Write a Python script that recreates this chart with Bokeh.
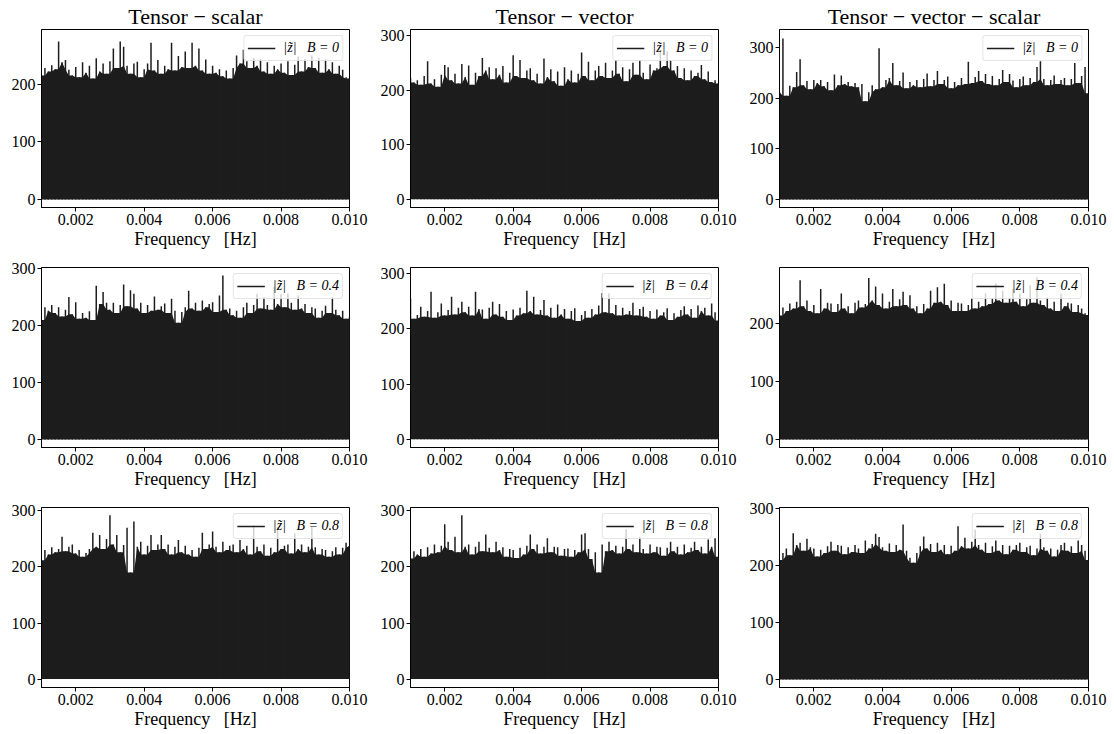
from bokeh.plotting import figure
from bokeh.layouts import column, row
from bokeh.models import Range1d, FixedTicker, NumeralTickFormatter, Legend, LegendItem
from bokeh.embed import file_html
from bokeh.resources import INLINE

# ---------------- data ----------------
freq_start = 0.001
freq_step = 0.0001
n_points = 91
freq = [round(freq_start + i * freq_step, 6) for i in range(n_points)]

titles = ["Tensor \u2212 scalar", "Tensor \u2212 vector", "Tensor \u2212 vector \u2212 scalar"]
b_values = ["0", "0.4", "0.8"]
x_ticks = [0.002, 0.004, 0.006, 0.008, 0.010]
y_ticks = [0, 100, 200, 300]

# |z~| peak values, Tensor - scalar, B = 0
ts_b0 = [215, 228, 222, 233, 226, 274, 238, 242, 225, 215,
         230, 212, 238, 220, 232, 210, 245, 222, 236, 218,
         240, 262, 228, 274, 265, 232, 218, 236, 239, 212,
         226, 236, 272, 224, 242, 218, 232, 226, 272, 224,
         249, 230, 257, 228, 272, 232, 262, 224, 243, 218,
         232, 220, 226, 214, 224, 210, 228, 250, 236, 260,
         240, 228, 246, 232, 244, 222, 238, 218, 232, 226,
         236, 220, 240, 216, 234, 248, 222, 244, 230, 250,
         228, 246, 220, 244, 226, 238, 218, 232, 225, 212,
         210]
# Tensor - vector, B = 0
tv_b0 = [222, 214, 218, 210, 226, 253, 212, 220, 206, 228,
         246, 242, 218, 230, 212, 248, 224, 245, 210, 232,
         226, 259, 236, 242, 220, 240, 228, 244, 214, 232,
         264, 226, 255, 222, 236, 240, 218, 230, 212, 258,
         224, 238, 216, 234, 208, 242, 220, 236, 214, 230,
         269, 226, 252, 218, 236, 244, 226, 250, 222, 236,
         255, 230, 242, 216, 238, 250, 228, 255, 232, 220,
         247, 236, 240, 273, 244, 271, 255, 236, 244, 222,
         240, 218, 236, 226, 232, 246, 220, 234, 215, 218,
         212]
# Tensor - vector - scalar, B = 0
tvs_b0 = [212, 318, 205, 225, 222, 252, 277, 226, 234, 218,
          236, 230, 236, 224, 232, 216, 247, 226, 245, 228,
          232, 224, 230, 222, 228, 194, 212, 226, 218, 299,
          222, 236, 240, 270, 226, 234, 251, 220, 232, 226,
          236, 222, 238, 249, 224, 236, 254, 228, 236, 243,
          220, 232, 226, 240, 228, 272, 230, 242, 254, 234,
          248, 228, 244, 226, 238, 256, 232, 248, 235, 222,
          238, 243, 226, 240, 232, 262, 273, 238, 226, 236,
          245, 228, 236, 240, 226, 238, 270, 230, 244, 262,
          210]
# Tensor - scalar, B = 0.4
ts_b04 = [210, 232, 226, 236, 222, 232, 216, 228, 250, 220,
          241, 212, 222, 214, 225, 210, 270, 238, 259, 240,
          228, 240, 222, 236, 272, 234, 262, 256, 230, 240,
          222, 236, 226, 251, 228, 234, 239, 222, 247, 226,
          205, 224, 232, 261, 230, 240, 226, 244, 232, 238,
          241, 224, 253, 288, 228, 230, 218, 226, 214, 232,
          240, 222, 236, 256, 230, 250, 236, 228, 268, 238,
          256, 232, 257, 240, 228, 253, 230, 238, 222, 232,
          230, 214, 226, 235, 222, 250, 228, 218, 226, 212,
          215]
# Tensor - vector, B = 0.4
tv_b04 = [255, 218, 225, 240, 222, 232, 267, 220, 230, 246,
          224, 234, 258, 226, 238, 249, 230, 240, 224, 267,
          236, 235, 218, 238, 249, 226, 245, 222, 232, 216,
          235, 224, 238, 228, 269, 232, 258, 226, 234, 252,
          224, 238, 220, 244, 226, 236, 218, 232, 237, 214,
          225, 232, 220, 236, 226, 242, 265, 230, 264, 228,
          243, 224, 238, 226, 232, 247, 224, 236, 240, 222,
          232, 218, 235, 224, 230, 237, 216, 228, 222, 234,
          241, 226, 236, 220, 242, 232, 238, 224, 246, 230,
          215]
# Tensor - vector - scalar, B = 0.4
tvs_b04 = [214, 228, 222, 235, 226, 238, 275, 230, 240, 222,
           232, 218, 260, 226, 236, 235, 220, 234, 252, 226,
           230, 218, 236, 240, 228, 234, 279, 240, 264, 232,
           252, 226, 238, 260, 230, 242, 255, 232, 249, 226,
           230, 218, 234, 226, 257, 236, 263, 238, 269, 232,
           240, 222, 236, 235, 222, 232, 243, 226, 238, 230,
           252, 234, 244, 270, 240, 257, 236, 244, 260, 238,
           252, 230, 242, 266, 236, 280, 240, 232, 245, 226,
           238, 222, 252, 230, 236, 235, 220, 232, 226, 218,
           215]
# Tensor - scalar, B = 0.8
ts_b08 = [212, 230, 222, 235, 226, 232, 254, 228, 236, 240,
          224, 230, 218, 225, 232, 261, 236, 257, 232, 250,
          292, 240, 257, 226, 239, 270, 190, 281, 236, 245,
          222, 238, 257, 230, 240, 257, 232, 240, 222, 236,
          248, 226, 238, 222, 230, 218, 234, 261, 232, 240,
          263, 236, 226, 245, 230, 238, 240, 226, 248, 232,
          238, 222, 274, 236, 228, 240, 220, 234, 226, 271,
          232, 238, 240, 224, 260, 232, 240, 226, 236, 271,
          235, 222, 232, 230, 218, 228, 235, 222, 234, 243,
          238]
# Tensor - vector, B = 0.8
tv_b08 = [215, 228, 222, 232, 218, 235, 224, 240, 226, 238,
          276, 245, 230, 254, 226, 292, 236, 240, 222, 236,
          245, 228, 258, 234, 226, 245, 230, 235, 218, 232,
          230, 216, 234, 222, 238, 258, 232, 240, 224, 236,
          251, 226, 236, 235, 220, 232, 233, 218, 230, 226,
          258, 260, 232, 214, 226, 190, 240, 228, 245, 230,
          238, 224, 236, 267, 232, 240, 226, 254, 232, 224,
          240, 226, 236, 235, 220, 234, 245, 228, 236, 222,
          240, 226, 234, 245, 230, 236, 224, 249, 236, 251,
          218]
# Tensor - vector - scalar, B = 0.8
tvs_b08 = [210, 222, 230, 218, 257, 236, 240, 226, 247, 232,
           230, 216, 228, 222, 234, 242, 226, 236, 235, 220,
           232, 224, 236, 230, 222, 244, 230, 238, 256, 250,
           232, 226, 239, 224, 236, 228, 272, 226, 214, 205,
           222, 234, 251, 230, 238, 224, 240, 228, 236, 220,
           235, 226, 269, 234, 249, 230, 242, 263, 236, 228,
           240, 222, 234, 244, 226, 236, 220, 235, 228, 236,
           240, 224, 232, 235, 218, 230, 256, 232, 226, 230,
           216, 228, 236, 240, 226, 234, 222, 244, 236, 226,
           210]

series = [[ts_b0, tv_b0, tvs_b0],
          [ts_b04, tv_b04, tvs_b04],
          [ts_b08, tv_b08, tvs_b08]]

# axis limits
y_limits = [[(-14, 295), (-15, 311), (-16, 336)],
            [(-14, 302), (-15, 311), (-14, 297)],
            [(-15, 306), (-15, 306), (-14, 302)]]

# ---------------- styling ----------------
SERIF = "Liberation Serif"
FILL = "#1d1d1d"
borders_left = [41, 39, 37]
borders_right = [22, 24, 26]
frame_w = [308, 308, 309]
borders_top = [27, 10, 10]
borders_bottom = [50, 50, 47]
frame_h = 180


def body_of(vals):
    # dense part of the spectrum: lowest of each value and its neighbours
    out = []
    for i in range(len(vals)):
        lo = max(0, i - 1)
        hi = min(len(vals), i + 2)
        out.append(min(vals[lo:hi]))
    return out


def make_panel(r, c):
    vals = series[r][c]
    kw = dict(
        width=borders_left[c] + frame_w[c] + borders_right[c],
        height=borders_top[r] + frame_h + borders_bottom[r],
        x_range=Range1d(freq_start, 0.010),
        y_range=Range1d(*y_limits[r][c]),
        output_backend="svg",
        toolbar_location=None,
        min_border_left=borders_left[c],
        min_border_right=borders_right[c],
        min_border_top=borders_top[r],
        min_border_bottom=borders_bottom[r],
        background_fill_color="white",
        border_fill_color="white",
    )
    kw["title"] = titles[c] if r == 0 else None
    p = figure(**kw)
    if r == 0:
        p.title.align = "center"
        p.title.text_font = SERIF
        p.title.text_font_size = "22px"
        p.title.text_font_style = "normal"
        p.title.text_color = "black"
        p.title.standoff = 2
        p.title.offset = 0

    p.varea(x=freq, y1=0, y2=body_of(vals), fill_color=FILL, fill_alpha=1.0)
    spikes = p.segment(x0=freq, y0=[0] * len(vals), x1=freq, y1=vals,
                       line_color=FILL, line_alpha=1.0, line_width=1.5)

    p.xgrid.visible = False
    p.ygrid.visible = False
    p.outline_line_color = "black"
    p.outline_line_width = 1

    p.xaxis.ticker = FixedTicker(ticks=x_ticks)
    p.xaxis.formatter = NumeralTickFormatter(format="0.000")
    p.yaxis.ticker = FixedTicker(ticks=y_ticks)
    p.xaxis.axis_label = "Frequency\u00a0\u00a0\u00a0[Hz]"
    for ax in (p.xaxis[0], p.yaxis[0]):
        ax.axis_line_color = "black"
        ax.axis_line_width = 1
        ax.major_tick_line_color = "black"
        ax.major_tick_line_width = 1
        ax.major_tick_out = 4
        ax.major_tick_in = 0
        ax.minor_tick_line_color = None
        ax.major_label_text_font = SERIF
        ax.major_label_text_font_size = "16px"
        ax.major_label_text_color = "black"
        ax.major_label_standoff = 2
        ax.axis_label_text_font = SERIF
        ax.axis_label_text_font_size = "18px"
        ax.axis_label_text_font_style = "normal"
        ax.axis_label_text_color = "black"
        ax.axis_label_standoff = 1

    legend = Legend(items=[LegendItem(label="|z\u0303|\u00a0\u00a0\u00a0B = " + b_values[r],
                                      renderers=[spikes])],
                    location="top_right")
    legend.label_text_font = SERIF
    legend.label_text_font_size = "14px"
    legend.label_text_font_style = "italic"
    legend.label_text_color = "black"
    legend.label_height = 18
    legend.glyph_height = 18
    legend.glyph_width = 28
    legend.label_standoff = 8
    legend.padding = 3
    legend.margin = 6
    legend.border_line_color = "#cccccc"
    legend.border_line_width = 1
    legend.background_fill_color = "white"
    legend.background_fill_alpha = 0.8
    if "border_radius" in Legend.properties():
        legend.border_radius = 3
    p.add_layout(legend)
    return p


rows = []
for r in range(3):
    rows.append(row(*[make_panel(r, c) for c in range(3)], spacing=0))
layout = column(*rows, spacing=0)

with open("out.html", "w") as f:
    f.write(file_html(layout, INLINE))
